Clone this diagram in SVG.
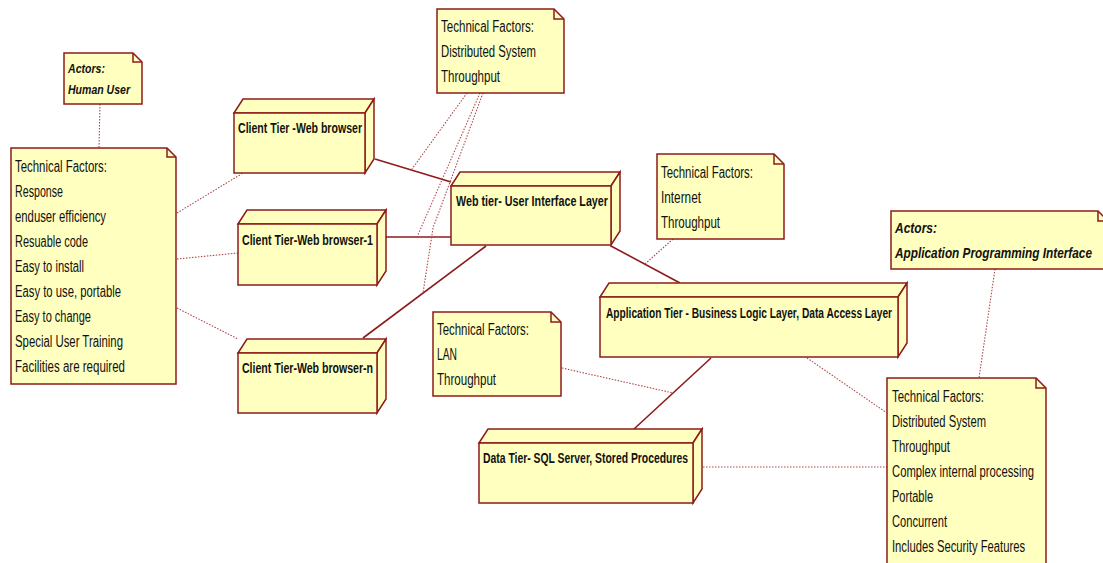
<svg xmlns="http://www.w3.org/2000/svg" width="1103" height="563" viewBox="0 0 1103 563">
  <style>
    .face { fill: #FFFFC0; stroke: #8E1B1B; stroke-width: 1.5; stroke-linejoin: miter; }
    .note { fill: #FFFFC0; stroke: #8E1B1B; stroke-width: 1.5; }
    .fold { fill: none; stroke: #8E1B1B; stroke-width: 1.5; }
    .link { stroke: #8E1B1B; stroke-width: 1.6; fill: none; }
    .anchor { stroke: #B04848; stroke-width: 1.1; stroke-dasharray: 1.5 1.5; fill: none; }
    .lbl { font-family: "Liberation Sans", Arial, sans-serif; font-size: 14.5px; font-weight: bold; fill: #111; }
    .txt { font-family: "Liberation Sans", Arial, sans-serif; font-size: 16px; fill: #111; }
    .act { font-family: "Liberation Sans", Arial, sans-serif; font-size: 13px; font-weight: bold; font-style: italic; fill: #111; }
    .act2 { font-family: "Liberation Sans", Arial, sans-serif; font-size: 14px; font-weight: bold; font-style: italic; fill: #111; }
  </style>

  <!-- connectors -->
  <g id="connectors">
    <!-- solid node-to-node links -->
    <line class="link" x1="375" y1="159" x2="451" y2="182"/>
    <line class="link" x1="377" y1="237" x2="451" y2="237"/>
    <line class="link" x1="363" y1="338" x2="486" y2="246"/>
    <line class="link" x1="611" y1="246" x2="680" y2="283"/>
    <line class="link" x1="711" y1="358" x2="634" y2="429"/>
    <!-- dotted note anchors -->
    <line class="anchor" x1="100" y1="104" x2="99" y2="148"/>
    <line class="anchor" x1="177" y1="213" x2="243" y2="173"/>
    <line class="anchor" x1="177" y1="259" x2="238" y2="253"/>
    <line class="anchor" x1="177" y1="308" x2="238" y2="339"/>
    <line class="anchor" x1="467" y1="93" x2="412" y2="169"/>
    <line class="anchor" x1="480" y1="93" x2="417" y2="237"/>
    <polyline class="anchor" points="483,93 433,228 423,293"/>
    <line class="anchor" x1="673" y1="239" x2="645" y2="264"/>
    <line class="anchor" x1="562" y1="368" x2="673" y2="393"/>
    <line class="anchor" x1="807" y1="358" x2="887" y2="413"/>
    <line class="anchor" x1="703" y1="467" x2="887" y2="467"/>
    <line class="anchor" x1="995" y1="269" x2="979" y2="378"/>
  </g>

  <!-- notes -->
  <g id="note-human-user">
    <path class="note" d="M64,53 H133 L142,62 V104 H64 Z"/>
    <path class="fold" d="M133,53 V62 H142"/>
    <text class="act" x="68" y="73" textLength="37" lengthAdjust="spacingAndGlyphs">Actors:</text>
    <text class="act" x="68" y="94" textLength="62" lengthAdjust="spacingAndGlyphs">Human User</text>
  </g>

  <g id="note-client-factors">
    <path class="note" d="M11,148 H167 L176,157 V384 H11 Z"/>
    <path class="fold" d="M167,148 V157 H176"/>
    <text class="txt" x="15" y="172" textLength="92" lengthAdjust="spacingAndGlyphs">Technical Factors:</text>
    <text class="txt" x="15" y="197" textLength="48" lengthAdjust="spacingAndGlyphs">Response</text>
    <text class="txt" x="15" y="222" textLength="91" lengthAdjust="spacingAndGlyphs">enduser efficiency</text>
    <text class="txt" x="15" y="247" textLength="73" lengthAdjust="spacingAndGlyphs">Resuable code</text>
    <text class="txt" x="15" y="272" textLength="69" lengthAdjust="spacingAndGlyphs">Easy to install</text>
    <text class="txt" x="15" y="297" textLength="106" lengthAdjust="spacingAndGlyphs">Easy to use, portable</text>
    <text class="txt" x="15" y="322" textLength="76" lengthAdjust="spacingAndGlyphs">Easy to change</text>
    <text class="txt" x="15" y="347" textLength="108" lengthAdjust="spacingAndGlyphs">Special User Training</text>
    <text class="txt" x="15" y="372" textLength="110" lengthAdjust="spacingAndGlyphs">Facilities are required</text>
  </g>

  <g id="note-distributed">
    <path class="note" d="M437,9 H554 L564,19 V93 H437 Z"/>
    <path class="fold" d="M554,9 V19 H564"/>
    <text class="txt" x="441" y="32" textLength="93" lengthAdjust="spacingAndGlyphs">Technical Factors:</text>
    <text class="txt" x="441" y="57" textLength="95" lengthAdjust="spacingAndGlyphs">Distributed System</text>
    <text class="txt" x="441" y="82" textLength="59" lengthAdjust="spacingAndGlyphs">Throughput</text>
  </g>

  <g id="note-internet">
    <path class="note" d="M657,154 H774 L784,164 V239 H657 Z"/>
    <path class="fold" d="M774,154 V164 H784"/>
    <text class="txt" x="661" y="178" textLength="92" lengthAdjust="spacingAndGlyphs">Technical Factors:</text>
    <text class="txt" x="661" y="203" textLength="40" lengthAdjust="spacingAndGlyphs">Internet</text>
    <text class="txt" x="661" y="228" textLength="59" lengthAdjust="spacingAndGlyphs">Throughput</text>
  </g>

  <g id="note-lan">
    <path class="note" d="M433,312 H551 L561,322 V396 H433 Z"/>
    <path class="fold" d="M551,312 V322 H561"/>
    <text class="txt" x="437" y="335" textLength="92" lengthAdjust="spacingAndGlyphs">Technical Factors:</text>
    <text class="txt" x="437" y="360" textLength="20" lengthAdjust="spacingAndGlyphs">LAN</text>
    <text class="txt" x="437" y="385" textLength="59" lengthAdjust="spacingAndGlyphs">Throughput</text>
  </g>

  <g id="note-api">
    <path class="note" d="M891,211 H1098 L1108,221 V269 H891 Z"/>
    <path class="fold" d="M1098,211 V221 H1108"/>
    <text class="act2" x="895" y="233" textLength="42" lengthAdjust="spacingAndGlyphs">Actors:</text>
    <text class="act2" x="895" y="258" textLength="197" lengthAdjust="spacingAndGlyphs">Application Programming Interface</text>
  </g>

  <g id="note-server-factors">
    <path class="note" d="M887,378 H1036 L1046,388 V570 H887 Z"/>
    <path class="fold" d="M1036,378 V388 H1046"/>
    <text class="txt" x="892" y="402" textLength="92" lengthAdjust="spacingAndGlyphs">Technical Factors:</text>
    <text class="txt" x="892" y="427" textLength="94" lengthAdjust="spacingAndGlyphs">Distributed System</text>
    <text class="txt" x="892" y="452" textLength="58" lengthAdjust="spacingAndGlyphs">Throughput</text>
    <text class="txt" x="892" y="477" textLength="142" lengthAdjust="spacingAndGlyphs">Complex internal processing</text>
    <text class="txt" x="892" y="502" textLength="41" lengthAdjust="spacingAndGlyphs">Portable</text>
    <text class="txt" x="892" y="527" textLength="55" lengthAdjust="spacingAndGlyphs">Concurrent</text>
    <text class="txt" x="892" y="552" textLength="133" lengthAdjust="spacingAndGlyphs">Includes Security Features</text>
  </g>

  <!-- nodes: top face, right face, front face -->
  <g id="node-client-browser">
    <polygon class="face" points="234,113 243,99 374,99 365,113"/>
    <polygon class="face" points="365,113 374,99 374,159 365,173"/>
    <rect class="face" x="234" y="113" width="131" height="60"/>
    <text class="lbl" x="238" y="133" textLength="124" lengthAdjust="spacingAndGlyphs">Client Tier -Web browser</text>
  </g>

  <g id="node-client-browser-1">
    <polygon class="face" points="238,224 247,210 386,210 377,224"/>
    <polygon class="face" points="377,224 386,210 386,271 377,285"/>
    <rect class="face" x="238" y="224" width="139" height="61"/>
    <text class="lbl" x="242" y="245" textLength="131" lengthAdjust="spacingAndGlyphs">Client Tier-Web browser-1</text>
  </g>

  <g id="node-client-browser-n">
    <polygon class="face" points="238,353 247,339 386,339 377,353"/>
    <polygon class="face" points="377,353 386,339 386,399 377,413"/>
    <rect class="face" x="238" y="353" width="139" height="60"/>
    <text class="lbl" x="242" y="373" textLength="131" lengthAdjust="spacingAndGlyphs">Client Tier-Web browser-n</text>
  </g>

  <g id="node-web-tier">
    <polygon class="face" points="451,186 460,172 620,172 611,186"/>
    <polygon class="face" points="611,186 620,172 620,231 611,245"/>
    <rect class="face" x="451" y="186" width="160" height="59"/>
    <text class="lbl" x="456" y="206" textLength="152" lengthAdjust="spacingAndGlyphs">Web tier- User Interface Layer</text>
  </g>

  <g id="node-application-tier">
    <polygon class="face" points="600,297 609,283 907,283 898,297"/>
    <polygon class="face" points="898,297 907,283 907,343 898,357"/>
    <rect class="face" x="600" y="297" width="298" height="60"/>
    <text class="lbl" x="606" y="318" textLength="286" lengthAdjust="spacingAndGlyphs">Application Tier - Business Logic Layer, Data Access Layer</text>
  </g>

  <g id="node-data-tier">
    <polygon class="face" points="479,443 488,429 702,429 693,443"/>
    <polygon class="face" points="693,443 702,429 702,489 693,503"/>
    <rect class="face" x="479" y="443" width="214" height="60"/>
    <text class="lbl" x="483" y="463" textLength="205" lengthAdjust="spacingAndGlyphs">Data Tier- SQL Server, Stored Procedures</text>
  </g>
</svg>
